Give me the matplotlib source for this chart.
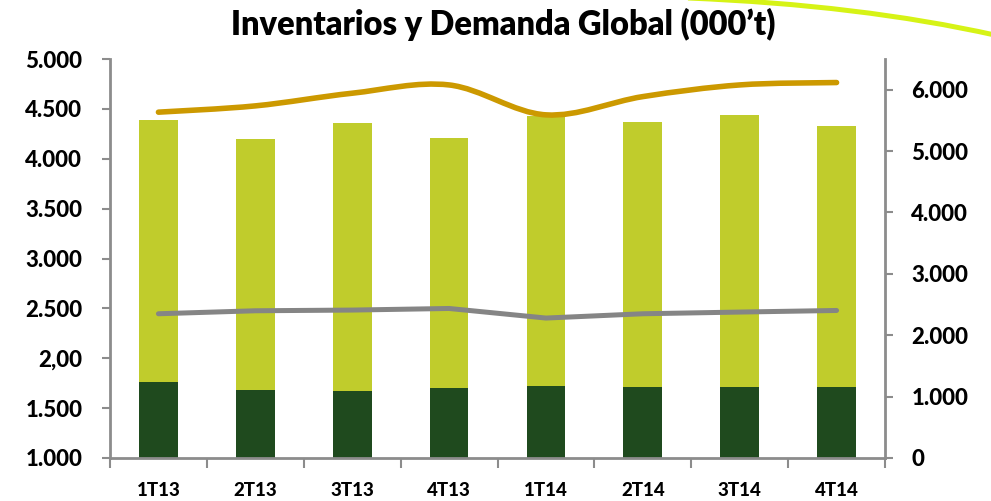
import matplotlib
matplotlib.use("Agg")
import matplotlib.pyplot as plt
from matplotlib.path import Path
from matplotlib.patches import PathPatch
import numpy as np

plt.rcParams["font.family"] = ["Lato", "DejaVu Sans"]
plt.rcParams["font.weight"] = "heavy"

# data (000't)
quarters = ["1T13", "2T13", "3T13", "4T13", "1T14", "2T14", "3T14", "4T14"]
inv_base = [1230, 1105, 1090, 1145, 1170, 1150, 1160, 1155]      # dark green, right axis
inv_top = [4270, 4090, 4360, 4075, 4395, 4320, 4425, 4250]       # lime, right axis
demanda = [4467, 4530, 4657, 4740, 4440, 4623, 4740, 4764]       # gold line, left axis
gris = [2446, 2476, 2483, 2499, 2403, 2446, 2463, 2479]          # gray line, left axis

left_ticks = [1000, 1500, 2000, 2500, 3000, 3500, 4000, 4500, 5000]
left_labels = ["1.000", "1.500", "2,00", "2.500", "3.000", "3.500", "4.000", "4.500", "5.000"]
right_ticks = [0, 1000, 2000, 3000, 4000, 5000, 6000]
right_labels = ["0", "1.000", "2.000", "3.000", "4.000", "5.000", "6.000"]

C_LIME = "#C0CC2C"
C_DARK = "#1F4A1E"
C_GOLD = "#CC9900"
C_GRAY = "#858585"
C_AXIS = "#8C8C8C"


def smooth_path(xs, ys):
    # catmull-rom -> bezier, like excel's smoothed line
    pts = list(zip(xs, ys))
    verts = [pts[0]]
    codes = [Path.MOVETO]
    n = len(pts)
    for i in range(n - 1):
        p0 = pts[max(i - 1, 0)]
        p1 = pts[i]
        p2 = pts[i + 1]
        p3 = pts[min(i + 2, n - 1)]
        c1 = (p1[0] + (p2[0] - p0[0]) / 6, p1[1] + (p2[1] - p0[1]) / 6)
        c2 = (p2[0] - (p3[0] - p1[0]) / 6, p2[1] - (p3[1] - p1[1]) / 6)
        verts += [c1, c2, p2]
        codes += [Path.CURVE4] * 3
    return Path(verts, codes)


fig = plt.figure(figsize=(9.91, 5.01), dpi=100)
ax = fig.add_axes([110 / 991, 43 / 501, 775 / 991, 399 / 501])
ax2 = ax.twinx()

x = np.arange(len(quarters))

ax2.bar(x, inv_base, width=0.4, color=C_DARK)
ax2.bar(x, inv_top, width=0.4, bottom=inv_base, color=C_LIME)

ax.set_zorder(ax2.get_zorder() + 1)
ax.patch.set_visible(False)

gold = PathPatch(smooth_path(x, demanda), fill=False, edgecolor=C_GOLD, lw=4.0,
                 capstyle="round", joinstyle="round", transform=ax.transData)
ax.add_patch(gold)
ax.plot(x, gris, color=C_GRAY, lw=3.6, solid_capstyle="round")

ax.set_xlim(-0.5, len(quarters) - 0.5)
ax.set_ylim(1000, 5000)
ax2.set_ylim(0, 6500)

ax.set_yticks(left_ticks)
ax.set_yticklabels(left_labels)
ax2.set_yticks(right_ticks)
ax2.set_yticklabels(right_labels)

ax.set_xticks(np.arange(len(quarters) + 1) - 0.5)
ax.set_xticklabels([])
ax.set_xticks(x, minor=True)
ax.set_xticklabels(quarters, minor=True)
ax.tick_params(axis="x", which="minor", length=0, pad=17, labelsize=13.5)
ax.tick_params(axis="x", which="major", length=7, width=1.5, color=C_AXIS)

ax.tick_params(axis="y", length=6, width=1.5, color=C_AXIS, pad=14, labelsize=16)
ax2.tick_params(axis="y", length=6, width=1.5, color=C_AXIS, pad=13, labelsize=16)

for lab in ax.get_yticklabels() + ax2.get_yticklabels() + ax.get_xticklabels(minor=True):
    lab.set_fontweight(900)

for a in (ax, ax2):
    a.spines["top"].set_visible(False)
    for s in ("left", "right", "bottom"):
        a.spines[s].set_color(C_AXIS)
        a.spines[s].set_linewidth(2)
ax.spines["right"].set_visible(False)
ax2.spines["left"].set_visible(False)
ax2.spines["bottom"].set_visible(False)

fig.text(0.508, 0.952, "Inventarios y Demanda Global (000’t)", ha="center", va="center",
         fontsize=23.5, fontweight="heavy")

# decorative arc top right
arc = Path([(688 / 991, 1.004), (860 / 991, 0.99), (995 / 991, 0.93)],
           [Path.MOVETO, Path.CURVE3, Path.CURVE3])
fig.add_artist(PathPatch(arc, fill=False, edgecolor="#D6F316", lw=3.6,
                         transform=fig.transFigure))

fig.savefig("out.png", dpi=100)
